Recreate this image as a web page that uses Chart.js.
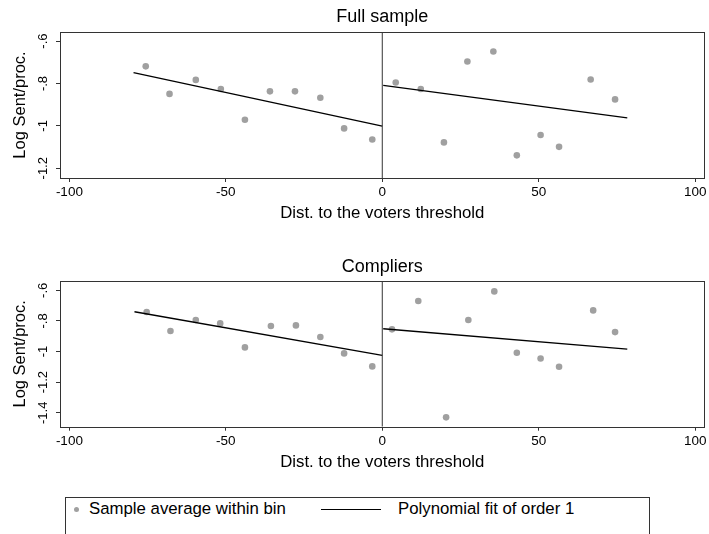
<!DOCTYPE html>
<html>
<head>
<meta charset="utf-8">
<script src="https://cdn.jsdelivr.net/npm/chart.js@4"></script>
<style>
  body { margin: 0; background: #fff; font-family: "Liberation Sans", Arial, sans-serif; }
  #wrap { position: relative; width: 709px; height: 534px; overflow: hidden; background: #fff; }
  canvas { position: absolute; left: 0; }
  #legend { position: absolute; left: 65px; top: 497px; width: 585px; height: 60px; border: 1px solid #333; box-sizing: border-box; }
  .lg { position: absolute; font-size: 16.8px; color: #000; line-height: 19px; top: 1px; white-space: nowrap; }
  .dot { position: absolute; left: 8px; top: 9px; width: 5px; height: 5px; border-radius: 50%; background: #a0a0a0; }
  .ln { position: absolute; left: 255px; top: 11px; width: 60px; height: 0; border-top: 1px solid #000; }
</style>
</head>
<body>
<div id="wrap">
  <canvas id="top" width="709" height="230" style="top:0"></canvas>
  <canvas id="bottom" width="709" height="250" style="top:230px"></canvas>
  <div id="legend">
    <span class="dot"></span><span class="lg" style="left:23px">Sample average within bin</span>
    <span class="ln"></span><span class="lg" style="left:332px">Polynomial fit of order 1</span>
  </div>
</div>
<script>
// bins (distance to threshold) and bin averages
const fullX = [-75.6, -68.0, -59.6, -51.6, -43.9, -35.9, -27.9, -19.8, -12.2, -3.2, 4.3, 12.3, 19.7, 27.2, 35.5, 43.0, 50.6, 56.5, 66.6, 74.4];
const fullY = [-0.719, -0.849, -0.783, -0.826, -0.971, -0.837, -0.837, -0.867, -1.012, -1.064, -0.795, -0.826, -1.078, -0.696, -0.649, -1.139, -1.043, -1.099, -0.781, -0.875];
const compX = [-75.3, -67.7, -59.6, -51.8, -43.9, -35.6, -27.6, -19.8, -12.2, -3.2, 3.1, 11.5, 20.4, 27.5, 35.8, 43.0, 50.6, 56.5, 67.4, 74.4];
const compY = [-0.742, -0.866, -0.794, -0.816, -0.973, -0.833, -0.829, -0.905, -1.012, -1.097, -0.855, -0.670, -1.430, -0.794, -0.607, -1.008, -1.045, -1.099, -0.731, -0.873];

// linear fits, endpoints on each side of the threshold
const fullFitLeftX = [-79.5, 0];
const fullFitLeftY = [-0.749, -1.001];
const fullFitRightX = [0.3, 78.3];
const fullFitRightY = [-0.809, -0.962];
const compFitLeftX = [-79.2, 0];
const compFitLeftY = [-0.740, -1.025];
const compFitRightX = [0.3, 78.3];
const compFitRightY = [-0.851, -0.984];

const xTicks = [-100, -50, 0, 50, 100];
const fullYTicks = [-0.6, -0.8, -1, -1.2];
const compYTicks = [-0.6, -0.8, -1, -1.2, -1.4];

const FONT = "'Liberation Sans', Arial, sans-serif";
const AXIS = '#333';

const pts = (xs, ys) => xs.map((x, i) => ({ x: x, y: ys[i] }));
// stata style: -.6 instead of -0.6
const fmt = v => String(Math.round(v * 10) / 10).replace(/^(-?)0\./, '$1.');

const boxPlugin = {
  id: 'box',
  afterDraw(chart) {
    const a = chart.chartArea, ctx = chart.ctx;
    ctx.save();
    ctx.strokeStyle = AXIS;
    ctx.lineWidth = 1;
    ctx.strokeRect(Math.round(a.left) + 0.5, Math.round(a.top) + 0.5, Math.round(a.right - a.left) - 1, Math.round(a.bottom - a.top));
    ctx.restore();
  }
};

function makePanel(id, title, cfg) {
  const h = document.getElementById(id).height;
  return new Chart(document.getElementById(id), {
    type: 'scatter',
    data: {
      datasets: [
        {
          data: [{ x: 0, y: cfg.yMin }, { x: 0, y: cfg.yMax }],
          showLine: true, borderColor: AXIS, borderWidth: 1, pointRadius: 0
        },
        {
          data: pts(cfg.leftX, cfg.leftY),
          showLine: true, borderColor: '#000', borderWidth: 1.3, pointRadius: 0
        },
        {
          data: pts(cfg.rightX, cfg.rightY),
          showLine: true, borderColor: '#000', borderWidth: 1.3, pointRadius: 0
        },
        {
          data: pts(cfg.xs, cfg.ys),
          pointRadius: 3.3, pointBackgroundColor: '#a0a0a0', pointBorderWidth: 0
        }
      ]
    },
    options: {
      responsive: false,
      animation: false,
      layout: { padding: { left: 0, right: 4, top: 0, bottom: 0 } },
      plugins: {
        legend: { display: false },
        tooltip: { enabled: false },
        title: {
          display: true, text: title, color: '#000', fullSize: false,
          font: { family: FONT, size: 18, weight: 'normal' },
          padding: { top: cfg.titleTop, bottom: cfg.titleBottom }
        }
      },
      scales: {
        x: {
          type: 'linear', min: -103, max: 103,
          afterBuildTicks: s => { s.ticks = xTicks.map(v => ({ value: v })); },
          afterFit: s => { s.height = h - cfg.plotBottom; },
          ticks: { color: '#000', font: { family: FONT, size: 13.5 }, padding: 2.5, maxRotation: 0 },
          grid: { drawOnChartArea: false, tickLength: 4, color: AXIS },
          border: { display: false },
          title: {
            display: true, text: 'Dist. to the voters threshold', color: '#000',
            font: { family: FONT, size: 16.8 }, padding: { top: 0, bottom: cfg.xTitlePad }
          }
        },
        y: {
          type: 'linear', min: cfg.yMin, max: cfg.yMax,
          afterBuildTicks: s => { s.ticks = cfg.yTicks.map(v => ({ value: v })); },
          afterFit: s => { s.width = 60; },
          ticks: {
            color: '#000', font: { family: FONT, size: 13 }, padding: 1.8,
            minRotation: 90, maxRotation: 90, crossAlign: 'center',
            callback: v => fmt(v)
          },
          grid: { drawOnChartArea: false, tickLength: 4, color: AXIS },
          border: { display: false },
          title: {
            display: true, text: 'Log Sent/proc.', color: '#000',
            font: { family: FONT, size: 16.5 }, padding: { top: 10.1, bottom: 0 }
          }
        }
      }
    },
    plugins: [boxPlugin]
  });
}

makePanel('top', 'Full sample', {
  xs: fullX, ys: fullY,
  leftX: fullFitLeftX, leftY: fullFitLeftY, rightX: fullFitRightX, rightY: fullFitRightY,
  yMin: -1.246, yMax: -0.557, yTicks: fullYTicks,
  titleTop: 6.2, titleBottom: 4.2, plotBottom: 178, xTitlePad: 6.4
});

makePanel('bottom', 'Compliers', {
  xs: compX, ys: compY,
  leftX: compFitLeftX, leftY: compFitLeftY, rightX: compFitRightX, rightY: compFitRightY,
  yMin: -1.491, yMax: -0.539, yTicks: compYTicks,
  titleTop: 26.4, titleBottom: 3.0, plotBottom: 196.7, xTitlePad: 7.4
});
</script>
</body>
</html>
